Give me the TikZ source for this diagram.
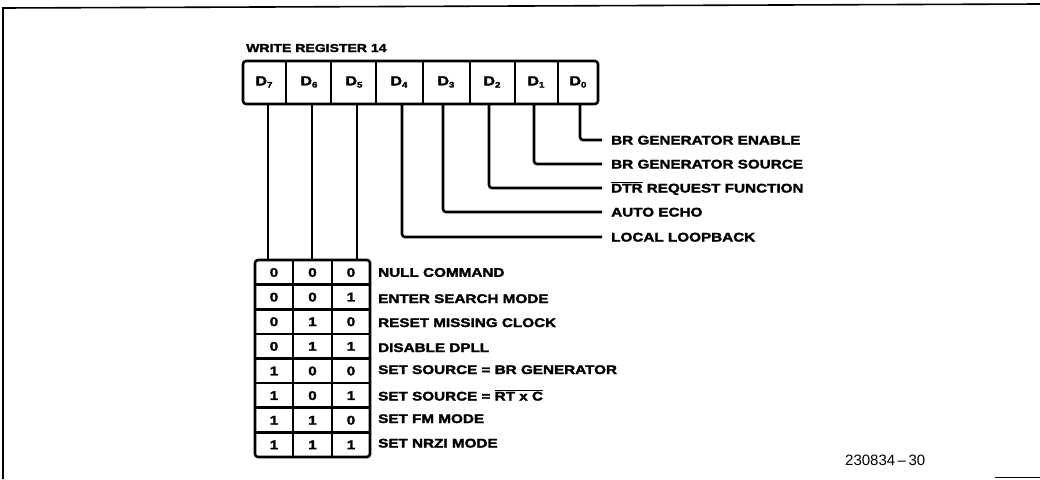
\documentclass[tikz,border=0pt]{standalone}
\usepackage{fontspec}
\newfontfamily\labfont[FakeStretch=1.22,FakeBold=2.2]{Liberation Sans Bold}
\newfontfamily\numfont{Liberation Sans}
\newcommand{\ovl}[1]{$\overline{\hbox{#1}}$}
\newcommand{\Dsub}[1]{D\raisebox{-2.2pt}{\fontsize{8}{8}\selectfont #1}}
\tikzset{
  lab/.style={anchor=west, inner xsep=9pt, inner ysep=0pt, text height=9pt, text depth=0pt,
              font=\labfont\fontsize{12.5}{14}\selectfont},
  rowlab/.style={lab, inner xsep=8pt},
  titletext/.style={anchor=base west, inner sep=0pt, font=\labfont\fontsize{11.5}{13}\selectfont},
  dname/.style={inner sep=0pt, font=\labfont\fontsize{13}{14}\selectfont},
  digit/.style={inner sep=0pt, text height=9pt, text depth=0pt, font=\labfont\fontsize{12.5}{14}\selectfont},
  wire/.style={line width=2.6pt, rounded corners=3pt},
  gridline/.style={line width=2.6pt, line join=round},
  framel/.style={line width=1.6pt},
  numtext/.style={anchor=base west, inner sep=0pt, font=\numfont\fontsize{15}{17}\selectfont}
}
\begin{document}
\begin{tikzpicture}[x=1pt,y=-1pt]
\useasboundingbox (0,0) rectangle (1040,479);
% frame
\draw[framel] (3,479) -- (3,8) -- (1040,4);
\draw[line width=1.2pt] (995,477.5) -- (1040,477.5);

% title
\node[titletext] (title) at (246,52) {WRITE REGISTER 14};

% register box
\draw[gridline, rounded corners=3pt] (243,61) rectangle (598,104);
\foreach \x in {286,331,376,423,470,515,558} \draw[gridline] (\x,61) -- (\x,104);
\node[dname] (d7) at (264,82) {\Dsub{7}};
\node[dname] (d6) at (309,82) {\Dsub{6}};
\node[dname] (d5) at (354,82) {\Dsub{5}};
\node[dname] (d4) at (399,82) {\Dsub{4}};
\node[dname] (d3) at (446,82) {\Dsub{3}};
\node[dname] (d2) at (492,82) {\Dsub{2}};
\node[dname] (d1) at (536,82) {\Dsub{1}};
\node[dname] (d0) at (578,82) {\Dsub{0}};

% wire start points on the bottom of the register
\coordinate (w7) at (268,104);
\coordinate (w6) at (312,104);
\coordinate (w5) at (357,104);
\coordinate (w4) at (402,104);
\coordinate (w3) at (443,104);
\coordinate (w2) at (489,104);
\coordinate (w1) at (534,104);
\coordinate (w0) at (580,104);

% bit labels
\node[lab] (l0) at (602,140) {BR GENERATOR ENABLE};
\node[lab] (l1) at (602,164) {BR GENERATOR SOURCE};
\node[lab] (l2) at (602,188) {\ovl{DTR} REQUEST FUNCTION};
\node[lab] (l3) at (602,212) {AUTO ECHO};
\node[lab] (l4) at (602,237) {LOCAL LOOPBACK};

\draw[wire] (w0) |- (l0.west);
\draw[wire] (w1) |- (l1.west);
\draw[wire] (w2) |- (l2.west);
\draw[wire] (w3) |- (l3.west);
\draw[wire] (w4) |- (l4.west);

% table
\coordinate (tabtop) at (255,260);
\draw[gridline, rounded corners=3pt] (255,260) rectangle (370,457);
\foreach \x in {293,332} \draw[gridline] (\x,260) -- (\x,457);
\foreach \i in {1,...,7} \draw[gridline] (255,260+24.625*\i) -- (370,260+24.625*\i);

\draw[wire] (w7) -- (w7 |- tabtop);
\draw[wire] (w6) -- (w6 |- tabtop);
\draw[wire] (w5) -- (w5 |- tabtop);

\foreach \r/\a/\b/\c in {1/0/0/0,2/0/0/1,3/0/1/0,4/0/1/1,5/1/0/0,6/1/0/1,7/1/1/0,8/1/1/1}{
  \node[digit] (a\r) at (274,260+24.625*\r-12.3) {\a};
  \node[digit] (b\r) at (312.5,260+24.625*\r-12.3) {\b};
  \node[digit] (c\r) at (351,260+24.625*\r-12.3) {\c};
}
\node[rowlab] (r1) at (370,272.3) {NULL COMMAND};
\node[rowlab] (r2) at (370,298.5) {ENTER SEARCH MODE};
\node[rowlab] (r3) at (370,322.5) {RESET MISSING CLOCK};
\node[rowlab] (r4) at (370,347.5) {DISABLE DPLL};
\node[rowlab] (r5) at (370,369.5) {SET SOURCE = BR GENERATOR};
\node[rowlab] (r6) at (370,396) {SET SOURCE = \ovl{RT x C}};
\node[rowlab] (r7) at (370,418.5) {SET FM MODE};
\node[rowlab] (r8) at (370,443) {SET NRZI MODE};

% figure number
\node[numtext] (fig) at (845,465) {230834\,–\,30};
\end{tikzpicture}
\end{document}
